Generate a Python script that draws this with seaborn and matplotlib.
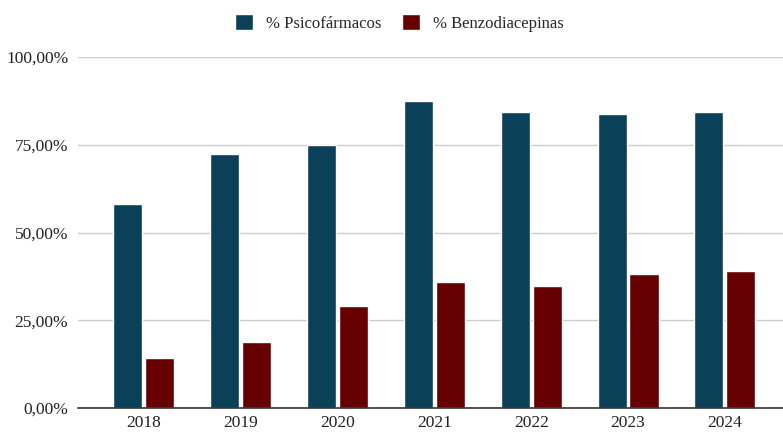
import pandas as pd
import numpy as np
import seaborn as sns
import matplotlib.pyplot as plt
from matplotlib.ticker import FuncFormatter

# data
years = ['2018', '2019', '2020', '2021', '2022', '2023', '2024']
psico = [0.581, 0.724, 0.749, 0.875, 0.843, 0.838, 0.843]
benzo = [0.142, 0.188, 0.291, 0.359, 0.348, 0.382, 0.390]
series = ['% Psicofármacos', '% Benzodiacepinas']
colors = ['#0b4059', '#660000']

df = pd.DataFrame({
    'year': years * 2,
    'value': psico + benzo,
    'serie': [series[0]] * len(years) + [series[1]] * len(years),
})

sns.set_style('white')
plt.rcParams['font.family'] = ['Liberation Serif', 'DejaVu Serif']

fig = plt.figure(figsize=(7.83, 4.32), dpi=100)
ax = fig.add_axes([0.0996, 0.0556, 0.9004, 0.8124])

sns.barplot(data=df, x='year', y='value', hue='serie', palette=colors,
            width=0.66, gap=0.09, saturation=1, ax=ax, legend=True)

ax.set_ylim(0, 1.0)
ax.set_xlim(-0.68, 6.60)
ax.set_yticks([0, 0.25, 0.5, 0.75, 1.0])
ax.yaxis.set_major_formatter(FuncFormatter(lambda v, p: f'{v*100:.2f}%'.replace('.', ',')))
ax.grid(axis='y', color='#cccccc', linewidth=1)
ax.set_axisbelow(True)
for s in ['top', 'right', 'left']:
    ax.spines[s].set_visible(False)
ax.spines['bottom'].set_color('#333333')
ax.spines['bottom'].set_linewidth(1.2)
ax.tick_params(axis='both', length=0, labelsize=12.5, colors='#222222')
ax.tick_params(axis='y', pad=7)
ax.tick_params(axis='x', pad=5)
ax.set_xlabel('')
ax.set_ylabel('')

handles, labels = ax.get_legend_handles_labels()
ax.legend(handles, labels, loc='upper center', bbox_to_anchor=(0.456, 1.165),
          ncol=2, frameon=False, fontsize=12, handlelength=1.1, handleheight=1.1,
          columnspacing=1.2, handletextpad=0.8)

fig.savefig('out.png', dpi=100)
